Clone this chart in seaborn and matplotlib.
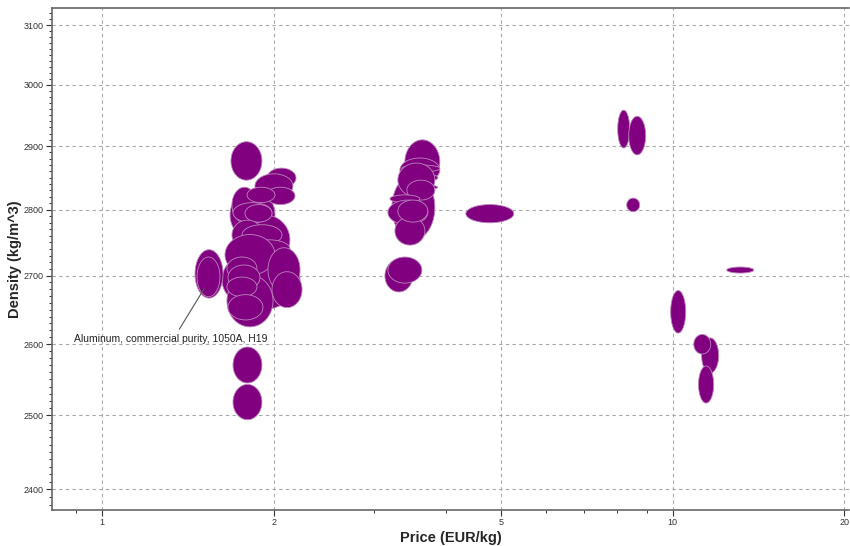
import numpy as np
import seaborn as sns
import matplotlib
matplotlib.use("Agg")
import matplotlib.pyplot as plt
from matplotlib.ticker import FixedLocator, FixedFormatter, NullFormatter

# price range (EUR/kg) and density range (kg/m^3) per material record
price_lo = [
    1.676, 1.745, 1.622, 3.221,
    1.682, 1.945, 1.853, 1.937, 1.689, 1.795, 1.696, 1.780, 1.689, 1.759,
    1.795, 1.642, 1.953, 1.985, 1.655, 1.655, 1.662, 1.655, 1.662, 1.455,
    1.467, 1.696, 1.696,
    3.393, 3.326, 3.353, 3.326, 3.366, 3.299, 3.421, 3.195, 3.169, 3.260,
    3.299, 3.131, 3.169, 4.340,
    8.011, 8.375, 8.307, 12.44, 9.920, 11.24, 10.89, 11.10,
]
price_hi = [
    2.009, 2.134, 2.223, 3.830,
    1.906, 2.187, 2.160, 2.178, 1.868, 2.009, 1.985, 1.985, 1.914, 2.067,
    2.134, 2.009, 2.223, 2.241, 1.993, 1.868, 1.891, 1.868, 1.914, 1.629,
    1.609, 1.906, 1.906,
    3.908, 3.908, 3.908, 3.876, 3.876, 3.830, 3.830, 3.605, 3.723, 3.679,
    3.723, 3.504, 3.634, 5.267,
    8.409, 8.968, 8.754, 13.87, 10.54, 12.04, 11.66, 11.80,
]
dens_lo = [
    2754, 2716, 2650, 2754,
    2846, 2834, 2818, 2808, 2780, 2811, 2780, 2781, 2739, 2746,
    2727, 2701, 2676, 2653, 2625, 2694, 2679, 2669, 2635, 2667,
    2669, 2545, 2494,
    2839, 2843, 2859, 2843, 2831, 2820, 2815, 2811, 2777, 2746,
    2781, 2676, 2689, 2780,
    2897, 2886, 2797, 2704, 2616, 2559, 2586, 2517,
]
dens_hi = [
    2831, 2792, 2739, 2854,
    2907, 2865, 2856, 2835, 2835, 2835, 2811, 2808, 2784, 2777,
    2754, 2762, 2742, 2706, 2701, 2728, 2716, 2698, 2672, 2739,
    2728, 2596, 2543,
    2910, 2881, 2870, 2857, 2839, 2873, 2846, 2823, 2815, 2789,
    2815, 2724, 2728, 2808,
    2958, 2948, 2818, 2713, 2678, 2609, 2614, 2569,
]

label_text = "Aluminum, commercial purity, 1050A, H19"
label_price = 1.51
label_dens = 2681

x_major = [1, 2, 5, 10, 20]
x_minor = [0.9, 3, 4, 6, 7, 8, 9]
y_major = [2400, 2500, 2600, 2700, 2800, 2900, 3000, 3100]

sns.set_theme(style="white")
plt.rcParams["font.family"] = ["Liberation Sans", "DejaVu Sans"]

fig = plt.figure(figsize=(8.5, 5.46), dpi=100)
ax = fig.add_axes([0.0612, 0.066, 0.938, 0.919])
ax.set_xscale("log")
ax.set_yscale("log")

t = np.linspace(0, 2 * np.pi, 120)
for p0, p1, d0, d1 in zip(price_lo, price_hi, dens_lo, dens_hi):
    # ellipse drawn in log-log space so it stays an ellipse on screen
    cx = (np.log10(p0) + np.log10(p1)) / 2
    rx = (np.log10(p1) - np.log10(p0)) / 2
    cy = (np.log10(d0) + np.log10(d1)) / 2
    ry = (np.log10(d1) - np.log10(d0)) / 2
    xs = 10 ** (cx + rx * np.cos(t))
    ys = 10 ** (cy + ry * np.sin(t))
    ax.fill(xs, ys, facecolor="#800080", edgecolor="#bd86bd", linewidth=0.6, zorder=3)

ax.annotate(
    label_text,
    xy=(label_price, label_dens),
    xytext=(0.893, 2608),
    ha="left",
    va="center",
    fontsize=7.5,
    color="#222222",
    arrowprops=dict(arrowstyle="-", color="#555555", lw=0.8,
                    relpos=(0.53, 1.0), shrinkA=1, shrinkB=0),
    zorder=4,
)

ax.set_xlim(0.817, 20.4)
ax.set_ylim(2373, 3129)

ax.xaxis.set_major_locator(FixedLocator(x_major))
ax.xaxis.set_major_formatter(FixedFormatter([str(v) for v in x_major]))
ax.xaxis.set_minor_locator(FixedLocator(x_minor))
ax.xaxis.set_minor_formatter(NullFormatter())
ax.yaxis.set_major_locator(FixedLocator(y_major))
ax.yaxis.set_major_formatter(FixedFormatter([str(v) for v in y_major]))
ax.yaxis.set_minor_locator(FixedLocator(np.arange(2380, 3130, 10)))
ax.yaxis.set_minor_formatter(NullFormatter())

ax.tick_params(axis="both", which="major", direction="out", length=4, width=0.8,
               colors="#333333", labelsize=6.5, pad=2, bottom=True, left=True)
ax.tick_params(axis="both", which="minor", direction="out", length=2.5, width=0.7,
               colors="#333333", bottom=True, left=True)

ax.grid(True, which="major", color="#a8a8a8", linestyle=(0, (3, 3)), linewidth=0.8, zorder=0)
ax.set_axisbelow(True)

for side in ["left", "bottom", "top"]:
    ax.spines[side].set_color("#666666")
    ax.spines[side].set_linewidth(1.2)
ax.spines["right"].set_visible(False)

ax.set_xlabel("Price (EUR/kg)", fontsize=10.5, fontweight="bold", labelpad=3)
ax.set_ylabel("Density (kg/m^3)", fontsize=10.5, fontweight="bold", labelpad=1)

fig.savefig("out.png", dpi=100)
